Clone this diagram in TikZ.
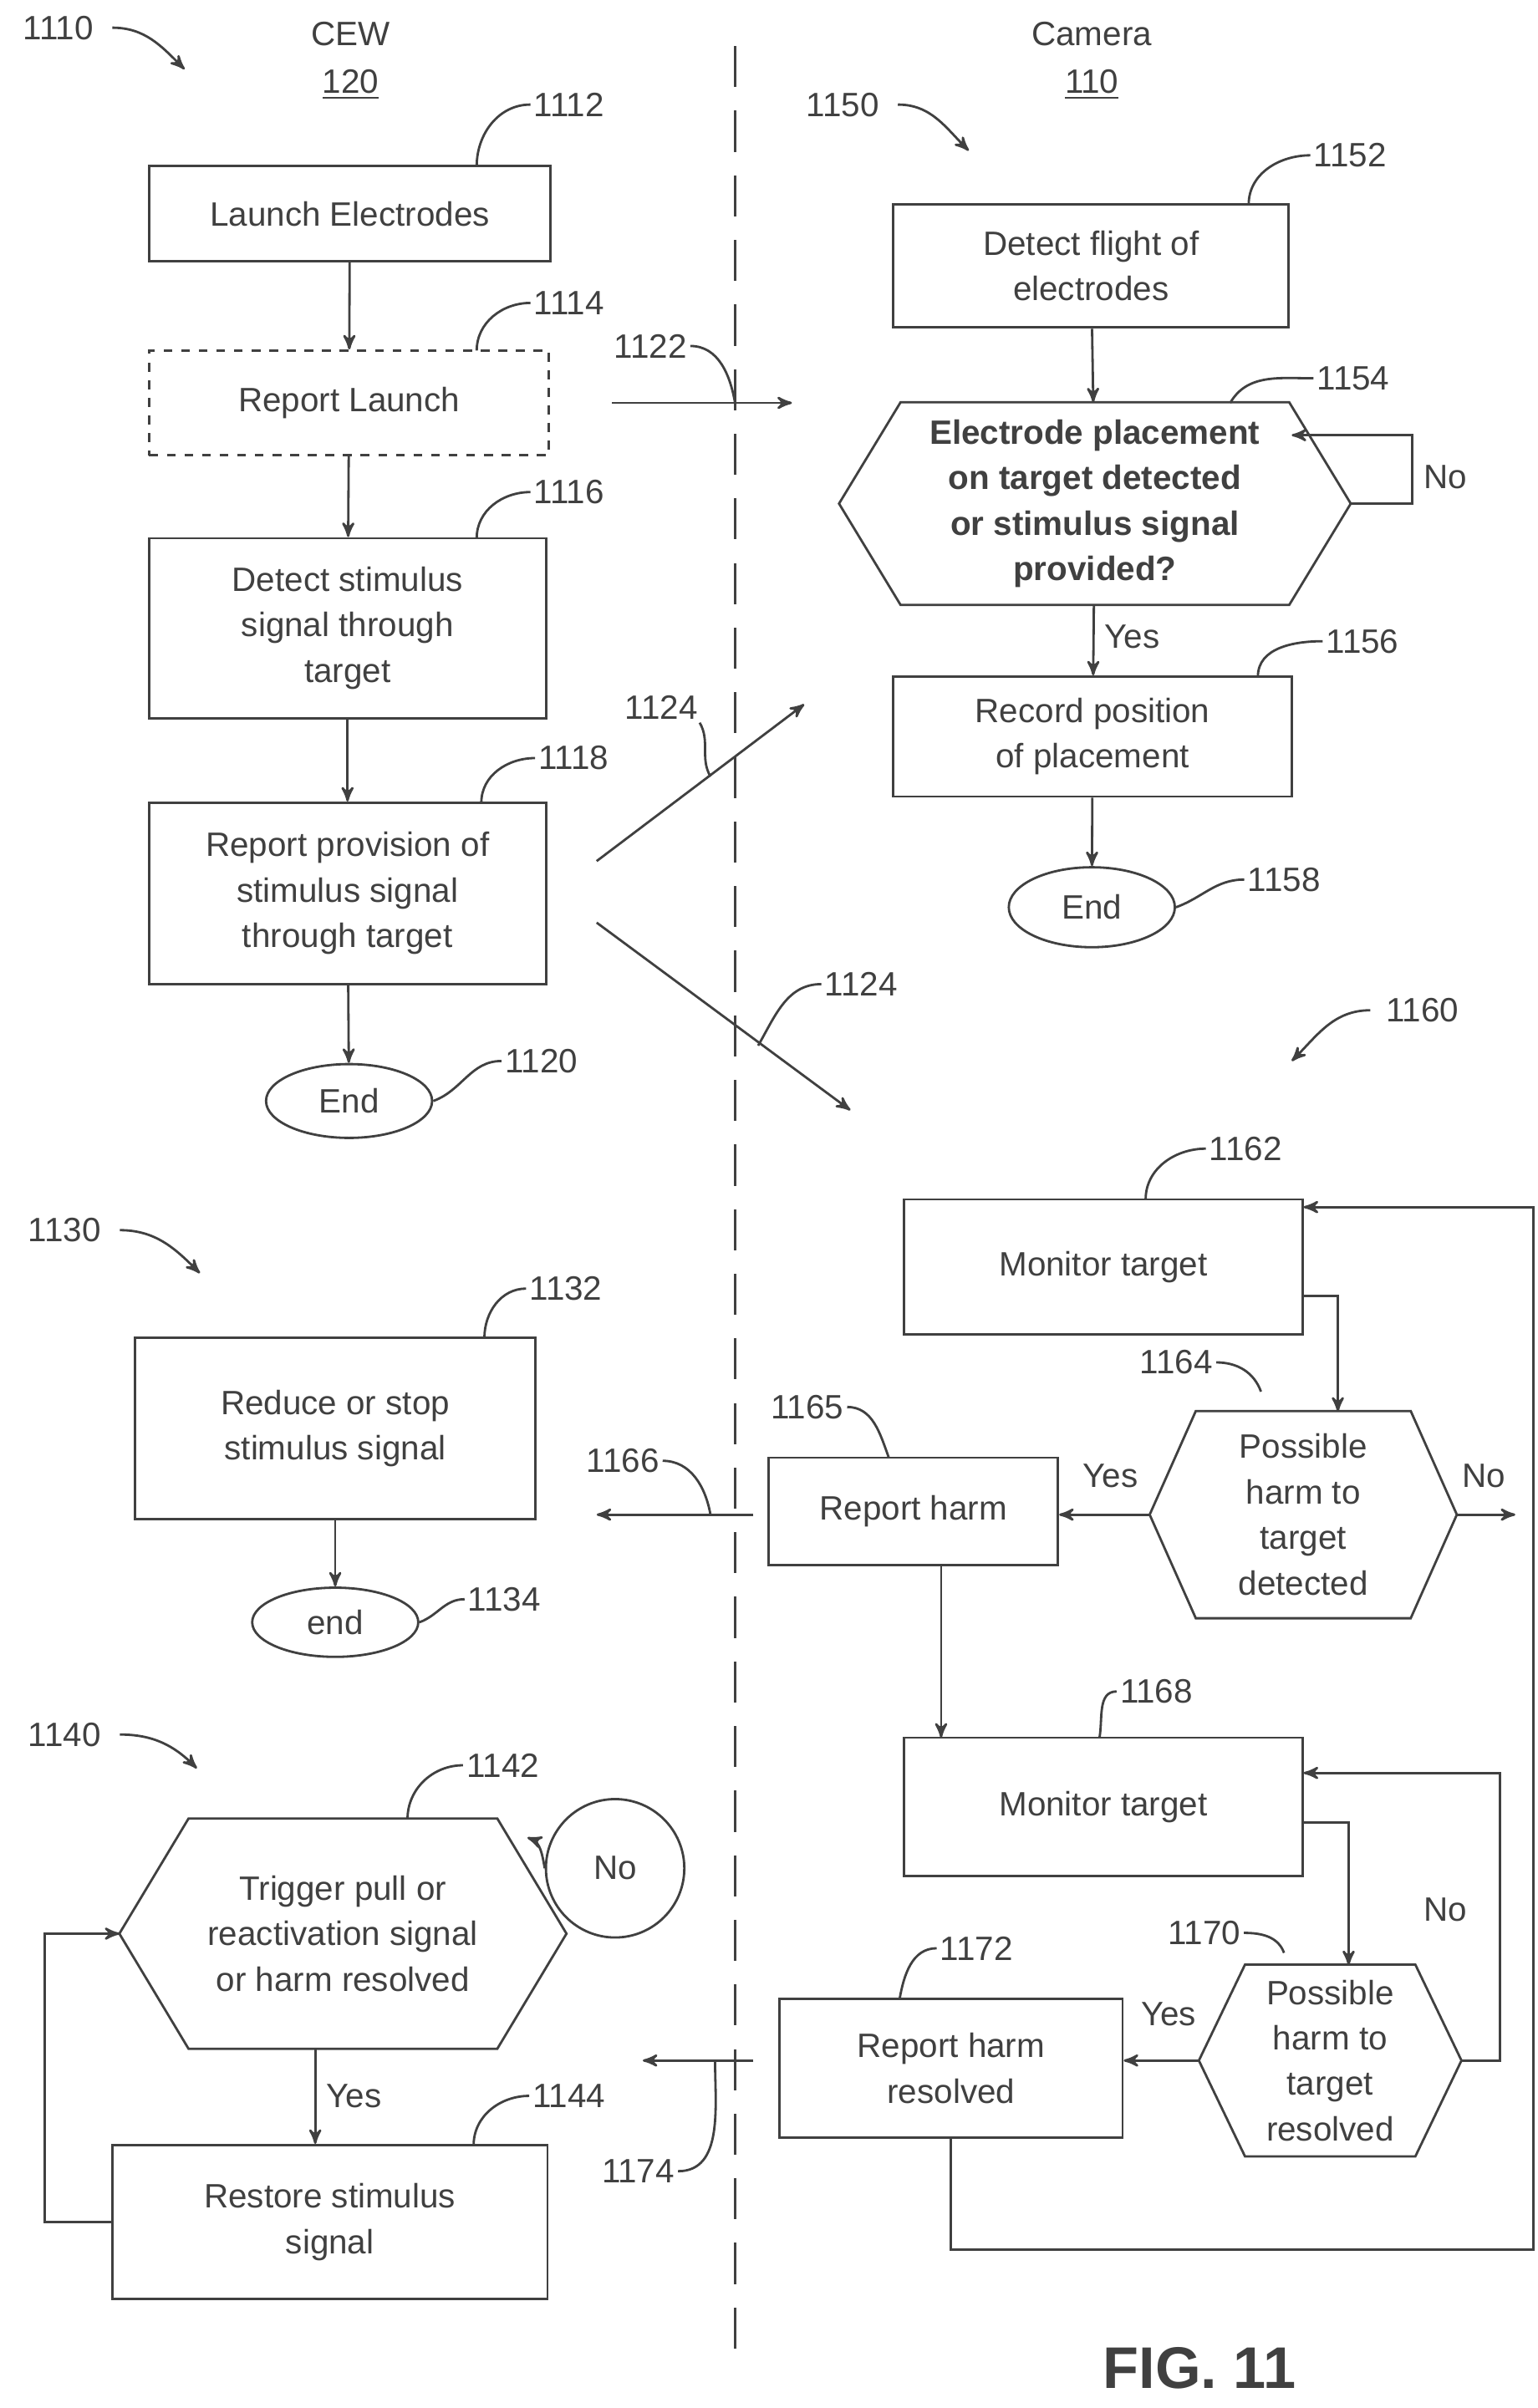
\documentclass[tikz,border=0pt]{standalone}
\usepackage{fontspec}
\setmainfont{Liberation Sans}
\usetikzlibrary{arrows,calc,shapes.geometric}
\def\pu{0.0184cm}
\newcommand\hexout[2]{\draw[thick] (#1.west) -- ([xshift=#2*\pu]#1.north west) -- ([xshift=-#2*\pu]#1.north east) -- (#1.east) -- ([xshift=-#2*\pu]#1.south east) -- ([xshift=#2*\pu]#1.south west) -- cycle;}
\tikzset{
  box/.style={draw,thick,align=center,inner sep=0pt},
  term/.style={draw,thick,ellipse,inner sep=0pt},
  hex/.style={align=center,inner sep=0pt},
  ref/.style={inner sep=1pt},
  lead/.style={thick},
  flow/.style={->,thick}
}
\begin{document}
\begin{tikzpicture}[x=0.0184cm,y=-0.0184cm,>=stealth',font=\fontsize{11.5}{15.5}\selectfont,color=black!75]
\useasboundingbox (0,0) rectangle (1000,1566);
%%%DIVIDER
\draw[thick,dash pattern=on 14pt off 8pt] (478,30) -- (478,1535);
\node (cew) at (228,22) {CEW};
\node (cewn) at (228,55) {\underline{120}};
\node (cam) at (710,22) {Camera};
\node (camn) at (710,55) {\underline{110}};
%%%CEW FLOW 1110
\node[ref] (l1110) at (38,18) {1110};
\draw[flow] (l1110.east) ++(10,0) to[out=0,in=135] (120,45);
\node[box,minimum width=261*\pu,minimum height=62*\pu] (b1112) at (227.5,139) {Launch Electrodes};
\node[box,dashed,minimum width=260*\pu,minimum height=68*\pu] (b1114) at (227,262) {Report Launch};
\node[box,minimum width=258*\pu,minimum height=117*\pu] (b1116) at (226,408.5) {Detect stimulus\\signal through\\target};
\node[box,minimum width=258*\pu,minimum height=118*\pu] (b1118) at (226,581) {Report provision of\\stimulus signal\\through target};
\node[term,minimum width=108*\pu,minimum height=48*\pu] (e1120) at (227,716) {End};
\draw[flow] (b1112) -- (b1114);
\draw[flow] (b1114) -- (b1116);
\draw[flow] (b1116) -- (b1118);
\draw[flow] (b1118) -- (e1120);
\node[ref] (l1112) at (370,68) {1112};
\node[ref] (l1114) at (370,197) {1114};
\node[ref] (l1116) at (370,320) {1116};
\node[ref] (l1118) at (373,493) {1118};
\node[ref] (l1120) at (352,690) {1120};
\draw[lead] (l1112.west) to[out=180,in=90] (310,108);
\draw[lead] (l1114.west) to[out=180,in=90] (310,228);
\draw[lead] (l1116.west) to[out=180,in=90] (310,350);
\draw[lead] (l1118.west) to[out=180,in=90] (313,522);
\draw[lead] (l1120.west) to[out=180,in=20] (e1120.east);
%%%MESSAGES
\coordinate (m22a) at (398,262);
\coordinate (m22b) at (515,262);
\draw[flow] (m22a) -- (m22b);
\node[ref] (l1122) at (423,225) {1122};
\draw[lead] (l1122.east) to[out=0,in=100] (478,262);
\coordinate (m24a) at (388,560);
\coordinate (m24b) at (523,458);
\draw[flow] (m24a) -- (m24b);
\node[ref] (l1124a) at (430,460) {1124};
\draw[lead] (l1124a.south) ++(25,0) to[out=-60,in=120] (462,505);
\coordinate (m24c) at (388,600);
\coordinate (m24d) at (553,722);
\draw[flow] (m24c) -- (m24d);
\node[ref] (l1124b) at (560,640) {1124};
\draw[lead] (l1124b.west) to[out=180,in=60] (493,680);
%%%CAMERA FLOW 1150
\node[ref] (l1150) at (548,68) {1150};
\draw[flow] (l1150.east) ++(10,0) to[out=0,in=135] (630,98);
\node[box,minimum width=257*\pu,minimum height=80*\pu] (b1152) at (709.5,173) {Detect flight of\\electrodes};
\node[hex,font=\fontsize{11.5}{15.5}\selectfont\bfseries,minimum width=332*\pu,minimum height=131*\pu] (h1154) at (712,327.5) {Electrode placement\\on target detected\\or stimulus signal\\provided?};
\hexout{h1154}{40}
\node[box,minimum width=259*\pu,minimum height=78*\pu] (b1156) at (710.5,479) {Record position\\of placement};
\node[term,minimum width=108*\pu,minimum height=52*\pu] (e1158) at (710,590) {End};
\draw[flow] (b1152) -- (h1154);
\draw[flow] (h1154) -- node[right,pos=0.45] {Yes} (b1156);
\draw[flow] (b1156) -- (e1158);
\coordinate (n54) at (840,283);
\draw[flow] (h1154.east) -- ++(40,0) |- (n54);
\node (no54) at (940,310) {No};
\node[ref] (l1152) at (878,101) {1152};
\node[ref] (l1154) at (880,246) {1154};
\node[ref] (l1156) at (886,417) {1156};
\node[ref] (l1158) at (835,572) {1158};
\draw[lead] (l1152.west) to[out=180,in=90] (812,133);
\draw[lead] (l1154.west) to[out=180,in=60] (800,262);
\draw[lead] (l1156.west) to[out=180,in=90] (818,440);
\draw[lead] (l1158.west) to[out=180,in=20] (e1158.east);
%%%CAMERA FLOW 1160
\node[ref] (l1160) at (925,657) {1160};
\draw[flow] (l1160.west) ++(-8,0) to[out=180,in=45] (840,690);
\node[box,minimum width=259*\pu,minimum height=88*\pu] (b1162) at (717.5,824) {Monitor target};
\node[hex,minimum width=199*\pu,minimum height=134*\pu] (h1164) at (847.5,985) {Possible\\harm to\\target\\detected};
\hexout{h1164}{30}
\node[box,minimum width=188*\pu,minimum height=70*\pu] (b1165) at (594,983) {Report harm};
\node[box,minimum width=259*\pu,minimum height=90*\pu] (b1168) at (717.5,1175) {Monitor target};
\node[hex,minimum width=170*\pu,minimum height=124*\pu] (h1170) at (865,1340) {Possible\\harm to\\target\\resolved};
\hexout{h1170}{30}
\node[box,minimum width=223*\pu,minimum height=90*\pu] (b1172) at (618.5,1345) {Report harm\\resolved};
\coordinate (t64) at (870,918);
\draw[flow] ([yshift=-19*\pu]b1162.east) -| (t64);
\draw[flow] (h1164.east) -- ++(38,0);
\node (no64) at (965,960) {No};
\draw[flow] (h1164.west) -- (h1164.west -| b1165.east);
\node (yes64) at (722,960) {Yes};
\draw[flow] (b1165.south -| 612,0) -- (612,1130);
\coordinate (t70) at (877,1278);
\draw[flow] ([yshift=-10*\pu]b1168.east) -| (t70);
\draw[flow] (h1170.east) -- ++(25,0) |- ([yshift=22*\pu]b1168.east);
\node (no70) at (940,1242) {No};
\draw[flow] (h1170.west) -- (h1170.west -| b1172.east);
\node (yes70) at (760,1310) {Yes};
\draw[flow] (b1172.south) -- ++(0,72) -| (997,785) -- ([yshift=39*\pu]b1162.east);
\node[ref] (l1162) at (810,747) {1162};
\node[ref] (l1164) at (765,886) {1164};
\node[ref] (l1165) at (525,915) {1165};
\node[ref] (l1168) at (752,1100) {1168};
\node[ref] (l1170) at (783,1257) {1170};
\node[ref] (l1172) at (635,1267) {1172};
\draw[lead] (l1162.west) to[out=180,in=90] (745,780);
\draw[lead] (l1164.east) to[out=0,in=110] (820,905);
\draw[lead] (l1165.east) to[out=0,in=110] (578,948);
\draw[lead] (l1168.west) to[out=180,in=80] (715,1130);
\draw[lead] (l1170.east) to[out=0,in=110] (835,1270);
\draw[lead] (l1172.west) to[out=180,in=80] (585,1300);
%%%HARM MESSAGES
\coordinate (m66a) at (490,985);
\coordinate (m66b) at (388,985);
\draw[flow] (m66a) -- (m66b);
\node[ref] (l1166) at (405,950) {1166};
\draw[lead] (l1166.east) to[out=0,in=100] (462,985);
\coordinate (m74a) at (490,1340);
\coordinate (m74b) at (418,1340);
\draw[flow] (m74a) -- (m74b);
\node[ref] (l1174) at (415,1412) {1174};
\draw[lead] (l1174.east) to[out=0,in=-90] (465,1340);
%%%CEW FLOW 1130
\node[ref] (l1130) at (42,800) {1130};
\draw[flow] (l1130.east) ++(10,0) to[out=0,in=135] (130,828);
\node[box,minimum width=260*\pu,minimum height=118*\pu] (b1132) at (218,929) {Reduce or stop\\stimulus signal};
\node[term,minimum width=108*\pu,minimum height=45*\pu] (e1134) at (218,1055) {end};
\draw[flow] (b1132) -- (e1134);
\node[ref] (l1132) at (368,838) {1132};
\node[ref] (l1134) at (328,1040) {1134};
\draw[lead] (l1132.west) to[out=180,in=90] (315,870);
\draw[lead] (l1134.west) to[out=180,in=20] (e1134.east);
%%%CEW FLOW 1140
\node[ref] (l1140) at (42,1128) {1140};
\draw[flow] (l1140.east) ++(10,0) to[out=0,in=135] (128,1150);
\node[hex,minimum width=290*\pu,minimum height=149*\pu] (h1142) at (223,1257.5) {Trigger pull or\\reactivation signal\\or harm resolved};
\hexout{h1142}{45}
\node[box,minimum width=283*\pu,minimum height=100*\pu] (b1144) at (214.5,1445) {Restore stimulus\\signal};
\node[circle,draw,thick,minimum size=90*\pu,inner sep=0pt] (c1142) at (400,1215) {No};
\coordinate (v1142) at (343,1195);
\draw[flow] (c1142.west) to[out=100,in=-20] (v1142);
\draw[flow] (h1142.south -| 205,0) -- node[right] {Yes} (b1144.north -| 205,0);
\draw[flow] (b1144.west) -- ++(-43,0) |- (h1142.west);
\node[ref] (l1142) at (327,1148) {1142};
\node[ref] (l1144) at (370,1363) {1144};
\draw[lead] (l1142.west) to[out=180,in=90] (265,1183);
\draw[lead] (l1144.west) to[out=180,in=90] (308,1395);
\node[font=\fontsize{20}{24}\selectfont\bfseries] (fig) at (780,1540) {FIG. 11};
\end{tikzpicture}
\end{document}
